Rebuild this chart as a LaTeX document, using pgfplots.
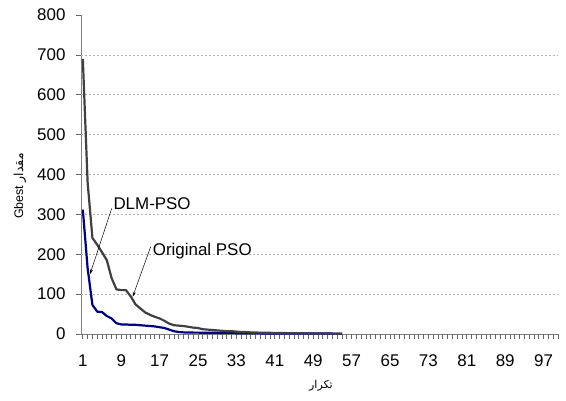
\documentclass[border=0pt]{standalone}
\usepackage{pgfplots}
\pgfplotsset{compat=1.18}
\usepackage{fontspec}
\setmainfont{Liberation Sans}
\newfontfamily\arabicfont[Script=Arabic]{DejaVu Sans}
\TeXXeTstate=1
\usetikzlibrary{arrows.meta}
\definecolor{origgray}{RGB}{64,64,64}
\definecolor{dlmblue}{RGB}{0,0,128}
\begin{document}
\begin{tikzpicture}
\useasboundingbox (-81bp,-67bp) rectangle (485bp,334bp);
\begin{axis}[
  at={(0,0)}, anchor=south west,
  scale only axis, width=477bp, height=319bp,
  xmin=0.62, xmax=100, ymin=0, ymax=800,
  axis x line=bottom, axis y line=left,
  axis line style={-, draw=black!50, line width=0.8bp},
  xtick pos=bottom, ytick pos=left,
  clip=false,
  ytick={0,100,...,800},
  xtick={1,9,...,97},
  minor xtick={1,...,100},
  tick align=outside,
  major tick length=5bp, minor tick length=5bp,
  every tick/.append style={black!60, line width=0.7bp},
  every minor tick/.append style={black!60, line width=0.7bp},
  every tick label/.append style={font=\fontsize{17}{20}\selectfont},
  /pgf/number format/assume math mode=true,
  yticklabel style={xshift=-7bp},
  xticklabel style={yshift=-12bp},
  extra y ticks={100,200,...,700},
  extra y tick labels={,,,,,,},
  extra y tick style={grid=major},
  major grid style={draw=black!30, dash pattern=on 2bp off 2bp, line width=0.6bp},
  ylabel={Gbest {\arabicfont\beginR مقدار\endR}},
  ylabel style={at={(axis description cs:-0.128,0.464)}, anchor=center, font=\fontsize{12.5}{14}\selectfont},
  xlabel={{\arabicfont\beginR تكرار\endR}},
  xlabel style={at={(axis description cs:0.503,-0.163)}, anchor=center, font=\fontsize{11}{13}\selectfont},
]
\pgfplotsinvokeforeach{1,...,100}{\draw[black!60, line width=0.7bp] (axis cs:#1,0) -- ++(0bp,-5bp);}
\pgfplotsinvokeforeach{0,100,...,800}{\draw[black!60, line width=0.7bp] (axis cs:0.62,#1) -- ++(-5bp,0bp);}
\addplot[dlmblue, line width=2.2bp, line join=round] coordinates {
(1,312)(2,165)(3,73)(4,56)(5,55)(6,45)(7,39)(8,27)(9,24)(10,24)(11,23)(12,23)(13,22)(14,21)(15,20)(16,19)(17,17)(18,15)(19,11)(20,7)(21,5)(22,4)(23,4)(24,3.5)(25,3.5)(26,3)(27,3)(28,3)(29,3)(30,2.5)(31,2.5)(32,2.5)(33,2)(34,2)(35,2)(36,2)(37,2)(38,1.5)(39,1.5)(40,1.5)(41,1.5)(42,1.5)(43,1.5)(44,1.5)(45,1.5)(46,1.5)(47,1.5)(48,1.5)(49,1.5)(50,1.5)(51,1.5)(52,1.5)(53,1)(54,1)(55,1)
};
\addplot[origgray, line width=2.2bp, line join=round] coordinates {
(1,690)(2,380)(3,241)(4,224)(5,205)(6,185)(7,140)(8,112)(9,110)(10,110)(11,94)(12,74)(13,64)(14,54)(15,48)(16,43)(17,39)(18,33)(19,26)(20,22)(21,21)(22,20)(23,18)(24,16)(25,15)(26,12)(27,11)(28,10)(29,9)(30,8)(31,7)(32,7)(33,6)(34,5)(35,5)(36,4)(37,4)(38,3)(39,3)(40,3)(41,2.5)(42,2.5)(43,2.5)(44,2)(45,2)(46,2)(47,2)(48,1.5)(49,1.5)(50,1.5)(51,1.5)(52,1.5)(53,1)(54,1)(55,1)
};
\node[anchor=base west, font=\fontsize{17}{20}\selectfont, inner sep=0pt] at (axis cs:7.35,311) {DLM-PSO};
\node[anchor=base west, font=\fontsize{17}{20}\selectfont, inner sep=0pt] at (axis cs:15.56,198) {Original PSO};
\draw[-{Stealth[length=5bp,width=3bp]}, line width=0.5bp, black] (axis cs:7.02,315) -- (axis cs:2.5,150);
\draw[-{Stealth[length=5bp,width=3bp]}, line width=0.5bp, black] (axis cs:15.14,219) -- (axis cs:11.39,93.5);
\end{axis}
\end{tikzpicture}
\end{document}
